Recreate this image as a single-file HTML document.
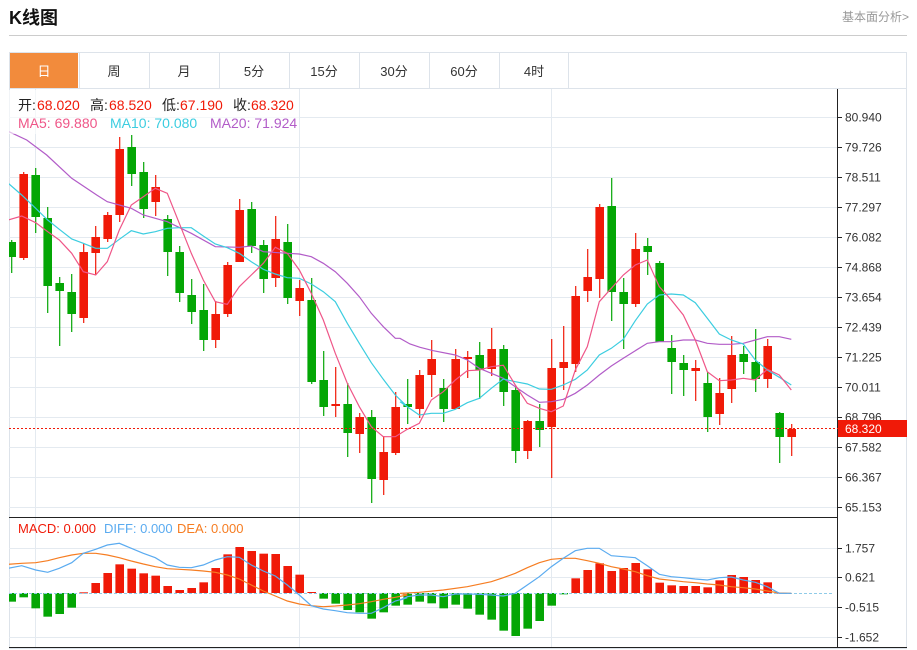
<!DOCTYPE html>
<html><head><meta charset="utf-8"><style>
body{margin:0;width:917px;height:650px;background:#fff;font-family:"Liberation Sans","Noto Sans CJK SC",sans-serif;position:relative;overflow:hidden}
.t{position:absolute}
</style></head><body>
<div class="t" style="left:9px;top:4px;font-size:18px;font-weight:bold;color:#111">K线图</div>
<div class="t" style="right:8px;top:8px;font-size:12px;color:#999">基本面分析&gt;</div>
<div class="t" style="left:9px;top:35px;width:898px;height:1px;background:#ccc"></div>
<svg class="t" style="left:0;top:0" width="917" height="650" id="s" xmlns="http://www.w3.org/2000/svg" font-family="Liberation Sans, Noto Sans CJK SC, sans-serif"></svg>
<script>
var s='<defs><clipPath id="cp"><rect x="9" y="89" width="828" height="560"/></clipPath></defs>';
s+='<rect x="9.5" y="52.5" width="897" height="596" fill="none" stroke="#dde3ea"/>';
s+='<line x1="9" y1="88.5" x2="907" y2="88.5" stroke="#dde3ea"/>';
s+='<rect x="10" y="53" width="68" height="35" fill="#f28b3c"/>';
var tabs=['日','周','月','5分','15分','30分','60分','4时'];
for(var i=0;i<8;i++){var x=9+70*i;if(i>0)s+='<line x1="'+(x+0.5)+'" y1="53" x2="'+(x+0.5)+'" y2="88" stroke="#dde3ea"/>';
s+='<text x="'+(x+35)+'" y="76" font-size="13" text-anchor="middle" fill="'+(i==0?'#fff':'#333')+'">'+tabs[i]+'</text>';}
s+='<line x1="568.5" y1="53" x2="568.5" y2="88" stroke="#dde3ea"/>';
for(var k=0;k<14;k++){var y=117+30*k;s+='<line x1="9" y1="'+(y+.5)+'" x2="838" y2="'+(y+.5)+'" stroke="#e4eaf0"/>';}
[548,577,607,637].forEach(function(y){s+='<line x1="9" y1="'+(y+.5)+'" x2="838" y2="'+(y+.5)+'" stroke="#e4eaf0"/>';});
[35,299,551].forEach(function(x){s+='<line x1="'+(x+.5)+'" y1="89" x2="'+(x+.5)+'" y2="648" stroke="#e4eaf0"/>';});
s+='<line x1="9" y1="517.5" x2="838" y2="517.5" stroke="#222"/>';
s+='<line x1="9" y1="647.5" x2="907" y2="647.5" stroke="#222"/>';
s+='<line x1="837.5" y1="89" x2="837.5" y2="648" stroke="#222"/>';
var labs=['80.940','79.726','78.511','77.297','76.082','74.868','73.654','72.439','71.225','70.011','68.796','67.582','66.367','65.153'];
labs.forEach(function(l,k){var y=117+30*k;s+='<line x1="837" y1="'+(y+.5)+'" x2="842" y2="'+(y+.5)+'" stroke="#222"/><text x="845" y="'+(y+4.5)+'" font-size="12" fill="#333">'+l+'</text>';});
[['1.757',548],['0.621',577],['-0.515',607],['-1.652',637]].forEach(function(a){s+='<line x1="837" y1="'+(a[1]+.5)+'" x2="842" y2="'+(a[1]+.5)+'" stroke="#222"/><text x="845" y="'+(a[1]+4.5)+'" font-size="12" fill="#333">'+a[0]+'</text>';});
var C=[[242,257,240,273,'g'],[174,258,172,260,'r'],[175,217,168,233,'g'],[218,286,207,313,'g'],[283,291,277,346,'g'],[292,314,274,332,'g'],[252,318,244,323,'r'],[237,253,226,275,'r'],[215,239,212,242,'r'],[149,215,137,222,'r'],[147,174,135,186,'g'],[172,209,162,218,'g'],[187,202,175,216,'r'],[219,252,215,276,'g'],[252,293,246,302,'g'],[295,312,279,324,'g'],[310,340,284,351,'g'],[314,340,301,348,'r'],[265,314,262,317,'r'],[210,262,199,262,'r'],[209,246,202,253,'g'],[245,279,240,293,'g'],[239,278,216,287,'r'],[242,298,224,304,'g'],[288,301,280,316,'r'],[300,382,278,384,'g'],[380,407,351,416,'g'],[404,406,367,417,'r'],[404,433,383,457,'g'],[417,434,413,453,'r'],[417,479,410,503,'g'],[452,480,436,495,'r'],[407,453,392,455,'r'],[404,407,379,424,'g'],[375,409,370,418,'r'],[359,375,340,397,'r'],[388,409,379,422,'g'],[359,409,349,409,'r'],[357,359,351,378,'r'],[355,370,342,399,'g'],[349,369,328,376,'r'],[349,392,345,406,'g'],[390,451,387,463,'g'],[421,451,420,459,'r'],[421,430,404,447,'g'],[368,427,339,478,'r'],[362,368,326,390,'r'],[296,364,286,372,'r'],[277,291,249,302,'r'],[207,279,204,298,'r'],[206,292,178,321,'g'],[292,304,278,349,'g'],[249,304,233,307,'r'],[246,252,238,275,'g'],[263,342,261,342,'g'],[348,362,335,394,'g'],[363,370,355,396,'g'],[368,371,360,401,'r'],[383,417,372,432,'g'],[393,414,378,425,'r'],[355,389,336,403,'r'],[354,362,346,374,'g'],[362,379,329,392,'g'],[346,379,339,388,'r'],[413,437,412,463,'g'],[429,437,424,456,'r']];
var R='#f01a08',G='#04a605';
function cx(i){return 11.7+12*i;}
s+='<g clip-path="url(#cp)">';
C.forEach(function(c,i){var x=cx(i),col=c[4]=='r'?R:G;
s+='<line x1="'+x+'" y1="'+c[2]+'" x2="'+x+'" y2="'+c[3]+'" stroke="'+col+'" stroke-width="1.2"/>';
s+='<rect x="'+(x-4.3)+'" y="'+c[0]+'" width="8.6" height="'+Math.max(2,c[1]-c[0])+'" fill="'+col+'"/>';});
function pl(a,ox,oy,col,w){var p=[];for(var i=0;i<a.length;i+=2)p.push((ox+a[i]/3).toFixed(1)+','+(oy+a[i+1]/3).toFixed(1));return '<polyline points="'+p.join(' ')+'" fill="none" stroke="'+col+'" stroke-width="'+(w||1.2)+'"/>';}
var ma5a=[25,240,65,228,107,248,143,275,178,300,215,340,250,395,287,405,322,365,358,270,394,195,430,170,466,145,502,160,538,250,574,340,610,420,646,485,682,493,718,440,754,405,790,370,826,322,862,340,898,390,934,460,970,540,1006,640,1042,730,1078,800,1114,860,1150,890,1186,890];
var ma5b=[22,868,58,850,94,780,130,755,166,720,202,692,238,690,274,680,310,676,346,735,382,790,418,805,454,815,490,798,526,690,562,620,598,485,634,445,670,405,706,375,742,360,778,440,814,480,850,525,886,600,922,695,958,722,994,720,1030,715,1066,720,1102,688,1138,705,1174,750];
var ma10a=[25,130,65,165,107,205,143,240,178,268,215,297,250,310,287,325,322,325,358,298,394,272,430,282,466,275,502,265,538,263,574,263,610,288,646,312,682,323,718,340,754,365,790,388,826,402,862,413,898,415,934,432,970,455,1006,485,1042,550,1078,610,1114,668,1150,718,1186,765,1222,800];
var ma10b=[0,785,22,800,58,825,94,820,130,820,166,808,202,788,238,775,274,745,310,717,346,725,382,732,418,747,454,748,490,735,526,718,562,690,598,645,634,625,670,598,706,542,742,492,778,465,814,462,850,465,886,488,922,535,958,582,994,600,1030,612,1066,660,1102,690,1138,712,1174,735];
var ma20a=[27,-25,80,0,140,45,215,115,290,165,322,185,394,205,430,225,502,245,574,280,646,320,718,322,754,318,790,335,862,340,898,342,934,350,970,370,1006,395,1042,430,1078,470,1114,520,1150,560,1186,595];
var ma20b=[0,595,30,612,60,622,100,632,166,645,202,660,238,685,274,700,310,715,346,740,382,765,418,787,454,785,490,778,526,760,562,735,598,705,634,678,670,655,706,632,742,610,778,605,814,605,850,600,886,600,922,610,958,613,994,613,1030,610,1066,600,1102,590,1138,590,1174,598];
function j(a,b){var r=[];for(var i=0;i<a.length;i+=2)r.push(a[i],a[i+1]);for(var i=0;i<b.length;i+=2)r.push(b[i]+1200,b[i+1]);return r;}
s+=pl(j(ma20a,ma20b),0,140,'#b25cc8');
s+=pl(j(ma10a,ma10b),0,140,'#3ccde0');
s+=pl(j(ma5a,ma5b),0,140,'#ef5688');
s+='</g>';
s+='<line x1="9" y1="428.5" x2="838" y2="428.5" stroke="#f01a08" stroke-dasharray="2,2"/>';
s+='<rect x="838" y="420" width="69" height="17" fill="#f01a08"/><text x="845" y="433" font-size="12" fill="#fff">68.320</text>';
s+='<rect x="9" y="90" width="290" height="44" fill="#fff" fill-opacity="0.6"/>';
function tx(x,y,t,c,fs){s+='<text x="'+x+'" y="'+y+'" font-size="'+(fs||14)+'" fill="'+c+'">'+t+'</text>';}
tx(18,110,'开:','#222');tx(37,110,'68.020',R);
tx(90,110,'高:','#222');tx(109,110,'68.520',R);
tx(162,110,'低:','#222');tx(180,110,'67.190',R);
tx(233,110,'收:','#222');tx(251,110,'68.320',R);
tx(18,128,'MA5: 69.880','#ef5688');tx(110,128,'MA10: 70.080','#3ccde0');tx(210,128,'MA20: 71.924','#b25cc8');
var M=[260,247,280,305,297,278,232,204,174,148,161,175,182,213,225,219,202,159,118,96,108,116,117,153,179,231,251,266,285,292,311,292,272,269,260,265,280,269,281,299,314,347,363,341,318,272,238,190,165,145,168,159,144,163,203,211,213,213,217,196,180,186,195,202,233];
s+='<g clip-path="url(#cp)">';
M.forEach(function(v,i){var x=cx(i),z=593,y=515+v/3;var top=Math.min(y,z),h=Math.abs(y-z);var col=y<z?R:G;if(h<1)h=1;s+='<rect x="'+(x-4.3)+'" y="'+top+'" width="8.6" height="'+h+'" fill="'+col+'"/>';});
s+='<line x1="9" y1="593.5" x2="834" y2="593.5" stroke="#8fcbe8" stroke-dasharray="3,2"/>';
var da=[25,160,65,152,107,165,143,172,178,160,215,143,250,115,287,103,322,90,358,85,394,100,430,115,466,128,502,150,538,157,574,158,610,150,646,135,682,125,718,127,754,150,790,168,826,183,862,210,898,240,934,272,970,282,1006,287,1042,293,1078,295,1114,295,1150,278,1186,258,1222,248];
var db=[0,255,22,245,58,240,94,240,130,245,166,237,202,237,238,238,274,240,310,243,346,235,382,210,418,185,454,155,490,130,526,107,562,100,598,100,634,122,670,125,706,128,742,152,778,178,814,185,850,188,886,192,922,195,958,188,994,186,1030,195,1066,202,1102,215,1138,235,1174,235];
var ea=[25,148,65,145,107,143,143,137,178,128,215,120,250,115,287,115,322,120,358,128,394,138,430,147,466,155,502,161,538,163,574,165,610,168,646,172,682,180,718,192,754,210,790,228,826,243,862,258,898,267,934,272,970,275,1006,273,1042,270,1078,266,1114,260,1150,253,1186,247,1222,240];
var eb=[0,235,58,232,130,225,202,215,274,200,310,188,346,175,382,158,418,143,454,133,490,130,526,130,562,137,598,145,634,155,670,162,706,170,742,182,778,192,814,196,850,200,886,203,922,207,958,210,994,215,1030,218,1066,222,1102,228,1138,234,1174,235];
s+=pl(j(ea,eb),0,515,'#f67d22');
s+=pl(j(da,db),0,515,'#5aabf0');
s+='</g>';
tx(18,533,'MACD: 0.000',R,13);tx(104,533,'DIFF: 0.000','#5aabf0',13);tx(177,533,'DEA: 0.000','#f67d22',13);
document.getElementById('s').innerHTML=s;
</script>
</body></html>
